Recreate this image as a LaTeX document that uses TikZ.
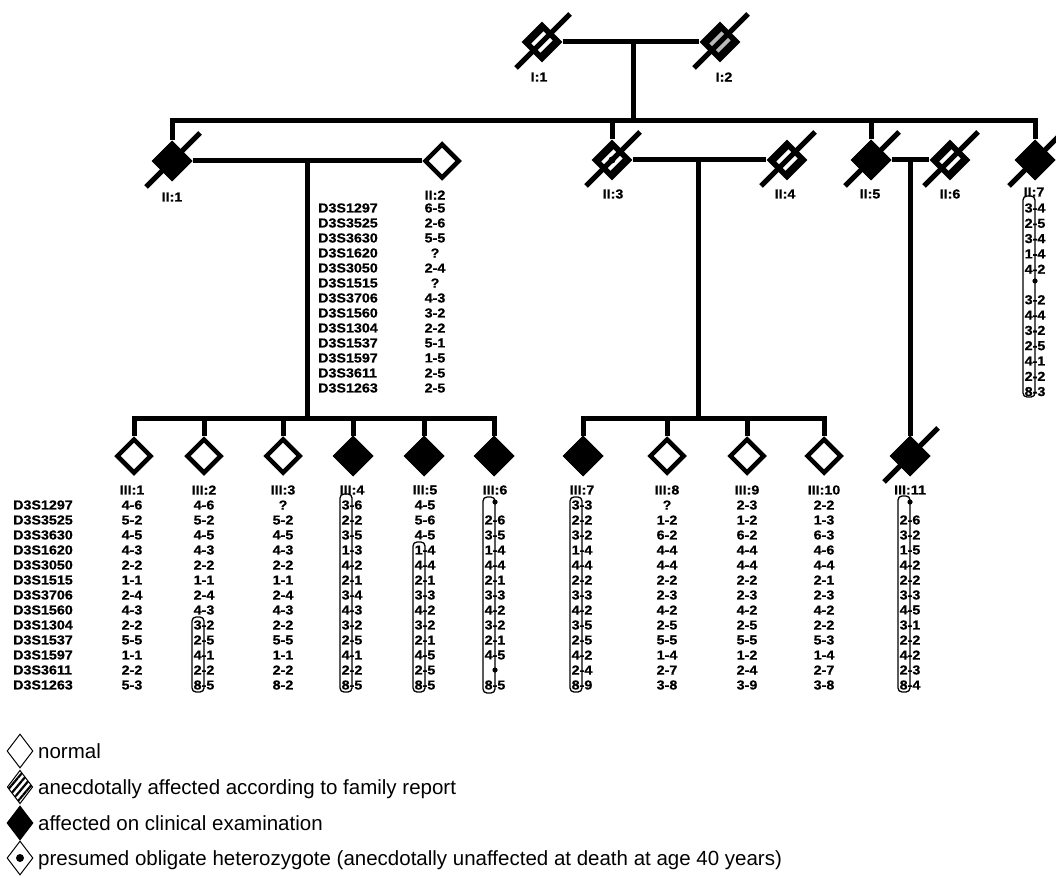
\documentclass[tikz,border=0pt]{standalone}
\usepackage{fontspec}
\setmainfont{Liberation Sans}
\newfontfamily\pedfont[FakeStretch=1.1,FakeBold=0.6]{Liberation Sans Bold}
\newfontfamily\legfont{Liberation Sans}
\usetikzlibrary{shapes.geometric,patterns.meta}
\newcommand{\deathline}[1]{\draw[pl] (#1.center) ++(-26,26) -- ++(54,-54);}
\tikzset{
  pl/.style={line width=5pt},
  openD/.style={diamond, draw, line width=4.5pt, fill=white, minimum width=35pt, minimum height=35pt, inner sep=0pt, shape aspect=1},
  affD/.style={diamond, fill=black, draw=black, line width=1pt, minimum width=40pt, minimum height=40pt, inner sep=0pt, shape aspect=1},
  anecD/.style={diamond, fill=black, minimum width=41pt, minimum height=41pt, inner sep=0pt, shape aspect=1},
  hole/.style={rectangle, rotate=45, minimum width=17pt, minimum height=13pt, inner sep=0pt, fill=white},
  ptxt/.style={font=\pedfont\fontsize{13}{14}\selectfont, inner sep=0pt, anchor=center},
  mname/.style={ptxt, anchor=west},
  hbox/.style={rounded corners=4pt, line width=1.3pt},
  hdot/.style={fill=black},
  legD/.style={diamond, draw, line width=1pt, minimum width=26pt, minimum height=34pt, inner sep=0pt, fill=white},
  legT/.style={font=\legfont\fontsize{20.5}{24}\selectfont, inner sep=0pt, anchor=base west},
}
\begin{document}
\begin{tikzpicture}[x=1pt,y=-1pt]
\path[use as bounding box, fill=white] (0,0) rectangle (1056,877);

% ---------------- Generation I
\node[anecD] (I1) at (542,42) {};
\node[hole] (I1h) at (I1) {};
\node[anecD] (I2) at (720,42) {};
\node[hole, fill=gray!55] (I2h) at (I2) {};
\draw[pl] (I1.east) -- (I2.west);
\deathline{I1}
\deathline{I2}
\coordinate (dI) at (633,42);
\coordinate (sibII) at (633,121);
\draw[pl] (dI) -- (sibII);
\node[ptxt] (lI1) at (539,77) {I:1};
\node[ptxt] (lI2) at (724,77) {I:2};

% ---------------- Generation II
\node[affD] (II1) at (172,161) {};
\node[openD] (II2) at (442,161) {};
\node[anecD] (II3) at (612,160) {};
\node[hole] (II3h) at (II3) {};
\node[anecD] (II4) at (787,160) {};
\node[hole] (II4h) at (II4) {};
\node[affD] (II5) at (871,160) {};
\node[anecD] (II6) at (950,160) {};
\node[hole] (II6h) at (II6) {};
\node[affD] (II7) at (1035,160) {};

\draw[pl, line join=miter] (II1.north) -- (II1.north |- sibII) -- (II7.north |- sibII) -- (II7.north);
\draw[pl] (II3.north) -- (II3.north |- sibII);
\draw[pl] (II5.north) -- (II5.north |- sibII);
\draw[pl] (II1.east) -- (II2.west);
\draw[pl] (II3.east) -- (II4.west);
\draw[pl] (II5.east) -- (II6.west);
\foreach \n in {II1,II3,II4,II5,II6,II7} {\deathline{\n}}
\fill (II3.center) circle (3.5pt);

\node[ptxt] (lII1) at (172,197) {II:1};
\node[ptxt] (lII2) at (435,195) {II:2};
\node[ptxt] (lII3) at (613,194) {II:3};
\node[ptxt] (lII4) at (785,194) {II:4};
\node[ptxt] (lII5) at (870,194) {II:5};
\node[ptxt] (lII6) at (950,194) {II:6};
\node[ptxt] (lII7) at (1034,192) {II:7};

% II:2 marker table
\foreach \m [count=\i] in {D3S1297,D3S3525,D3S3630,D3S1620,D3S3050,D3S1515,D3S3706,D3S1560,D3S1304,D3S1537,D3S1597,D3S3611,D3S1263}
  \node[mname] (mA\i) at (318,{208+15*(\i-1)}) {\m};
\foreach \v [count=\i] in {6-5,2-6,5-5,?,2-4,?,4-3,3-2,2-2,5-1,1-5,2-5,2-5}
  \node[ptxt] (vII2-\i) at (435,{208+15*(\i-1)}) {\v};

% II:7 haplotype
\foreach \v [count=\i] in {3-4,2-5,3-4,1-4,4-2,{},3-2,4-4,3-2,2-5,4-1,2-2,8-3}
  \node[ptxt] (vII7-\i) at (1035,{208+15.3*(\i-1)}) {\v};
\draw[hbox] (1023,196) rectangle (1035,397);
\fill[hdot] (1035,281) circle (2.6pt);

% descent lines
\coordinate (dA) at (307,161);
\coordinate (sibA) at (307,418);
\draw[pl] (dA) -- (sibA);
\coordinate (dB) at (698,160);
\coordinate (sibB) at (698,418);
\draw[pl] (dB) -- (sibB);
\coordinate (dC) at (910,160);

% ---------------- Generation III
\node[openD] (III1) at (134,456) {};
\node[openD] (III2) at (204,456) {};
\node[openD] (III3) at (283,456) {};
\node[affD] (III4) at (353,456) {};
\node[affD] (III5) at (424,456) {};
\node[affD] (III6) at (494,456) {};
\node[affD] (III7) at (583,456) {};
\node[openD] (III8) at (667,456) {};
\node[openD] (III9) at (747,456) {};
\node[openD] (III10) at (824,456) {};
\node[affD] (III11) at (910,456) {};

\draw[pl, line join=miter] (III1.north) -- (III1.north |- sibA) -- (III6.north |- sibA) -- (III6.north);
\foreach \n in {III2,III3,III4,III5} {\draw[pl] (\n.north) -- (\n.north |- sibA);}
\draw[pl, line join=miter] (III7.north) -- (III7.north |- sibB) -- (III10.north |- sibB) -- (III10.north);
\foreach \n in {III8,III9} {\draw[pl] (\n.north) -- (\n.north |- sibB);}
\draw[pl] (dC) -- (III11.north);
\deathline{III11}

\foreach \n/\x/\t in {III1/132/III:1,III2/204/III:2,III3/283/III:3,III4/352/III:4,III5/425/III:5,III6/495/III:6,III7/582/III:7,III8/667/III:8,III9/747/III:9,III10/824/III:10,III11/910/III:11}
  \node[ptxt] (l\n) at (\x,490) {\t};

% marker names
\foreach \m [count=\i] in {D3S1297,D3S3525,D3S3630,D3S1620,D3S3050,D3S1515,D3S3706,D3S1560,D3S1304,D3S1537,D3S1597,D3S3611,D3S1263}
  \node[mname] (mB\i) at (13,{505+15*(\i-1)}) {\m};

\foreach \v [count=\i] in {4-6,5-2,4-5,4-3,2-2,1-1,2-4,4-3,2-2,5-5,1-1,2-2,5-3}
  \node[ptxt] (vIII1-\i) at (132,{505+15*(\i-1)}) {\v};
\foreach \v [count=\i] in {4-6,5-2,4-5,4-3,2-2,1-1,2-4,4-3,3-2,2-5,4-1,2-2,8-5}
  \node[ptxt] (vIII2-\i) at (204,{505+15*(\i-1)}) {\v};
\foreach \v [count=\i] in {?,5-2,4-5,4-3,2-2,1-1,2-4,4-3,2-2,5-5,1-1,2-2,8-2}
  \node[ptxt] (vIII3-\i) at (283,{505+15*(\i-1)}) {\v};
\foreach \v [count=\i] in {3-6,2-2,3-5,1-3,4-2,2-1,3-4,4-3,3-2,2-5,4-1,2-2,8-5}
  \node[ptxt] (vIII4-\i) at (352,{505+15*(\i-1)}) {\v};
\foreach \v [count=\i] in {4-5,5-6,4-5,1-4,4-4,2-1,3-3,4-2,3-2,2-1,4-5,2-5,8-5}
  \node[ptxt] (vIII5-\i) at (425,{505+15*(\i-1)}) {\v};
\foreach \v [count=\i] in {{},2-6,3-5,1-4,4-4,2-1,3-3,4-2,3-2,2-1,4-5,{},8-5}
  \node[ptxt] (vIII6-\i) at (495,{505+15*(\i-1)}) {\v};
\foreach \v [count=\i] in {3-3,2-2,3-2,1-4,4-4,2-2,3-3,4-2,3-5,2-5,4-2,2-4,8-9}
  \node[ptxt] (vIII7-\i) at (582,{505+15*(\i-1)}) {\v};
\foreach \v [count=\i] in {?,1-2,6-2,4-4,4-4,2-2,2-3,4-2,2-5,5-5,1-4,2-7,3-8}
  \node[ptxt] (vIII8-\i) at (667,{505+15*(\i-1)}) {\v};
\foreach \v [count=\i] in {2-3,1-2,6-2,4-4,4-4,2-2,2-3,4-2,2-5,5-5,1-2,2-4,3-9}
  \node[ptxt] (vIII9-\i) at (747,{505+15*(\i-1)}) {\v};
\foreach \v [count=\i] in {2-2,1-3,6-3,4-6,4-4,2-1,2-3,4-2,2-2,5-3,1-4,2-7,3-8}
  \node[ptxt] (vIII10-\i) at (824,{505+15*(\i-1)}) {\v};
\foreach \v [count=\i] in {{},2-6,3-2,1-5,4-2,2-2,3-3,4-5,3-1,2-2,4-2,2-3,8-4}
  \node[ptxt] (vIII11-\i) at (910,{505+15*(\i-1)}) {\v};

% haplotype boxes
\draw[hbox] (192,617) rectangle (204,692);
\draw[hbox] (340,494) rectangle (352,692);
\draw[hbox] (413,542) rectangle (425,692);
\draw[hbox] (483,497) rectangle (495,693);
\fill[hdot] (495,502) circle (2.6pt);
\fill[hdot] (495,670) circle (2.6pt);
\draw[hbox] (570,497) rectangle (582,692);
\draw[hbox] (898,496) rectangle (910,692);
\fill[hdot] (910,502) circle (2.6pt);

% ---------------- Legend
\node[legD] (L1) at (20,751) {};
\node[legD, pattern={Lines[angle=50,distance=5pt,line width=2.2pt]}] (L2) at (20,787) {};
\node[legD, fill=black] (L3) at (20,823) {};
\node[legD] (L4) at (20,858) {};
\fill (L4.center) circle (4pt);
\node[legT] (tL1) at (38,758) {normal};
\node[legT] (tL2) at (38,794) {anecdotally affected according to family report};
\node[legT] (tL3) at (38,830) {affected on clinical examination};
\node[legT] (tL4) at (38,865) {presumed obligate heterozygote (anecdotally unaffected at death at age 40 years)};
\end{tikzpicture}
\end{document}
